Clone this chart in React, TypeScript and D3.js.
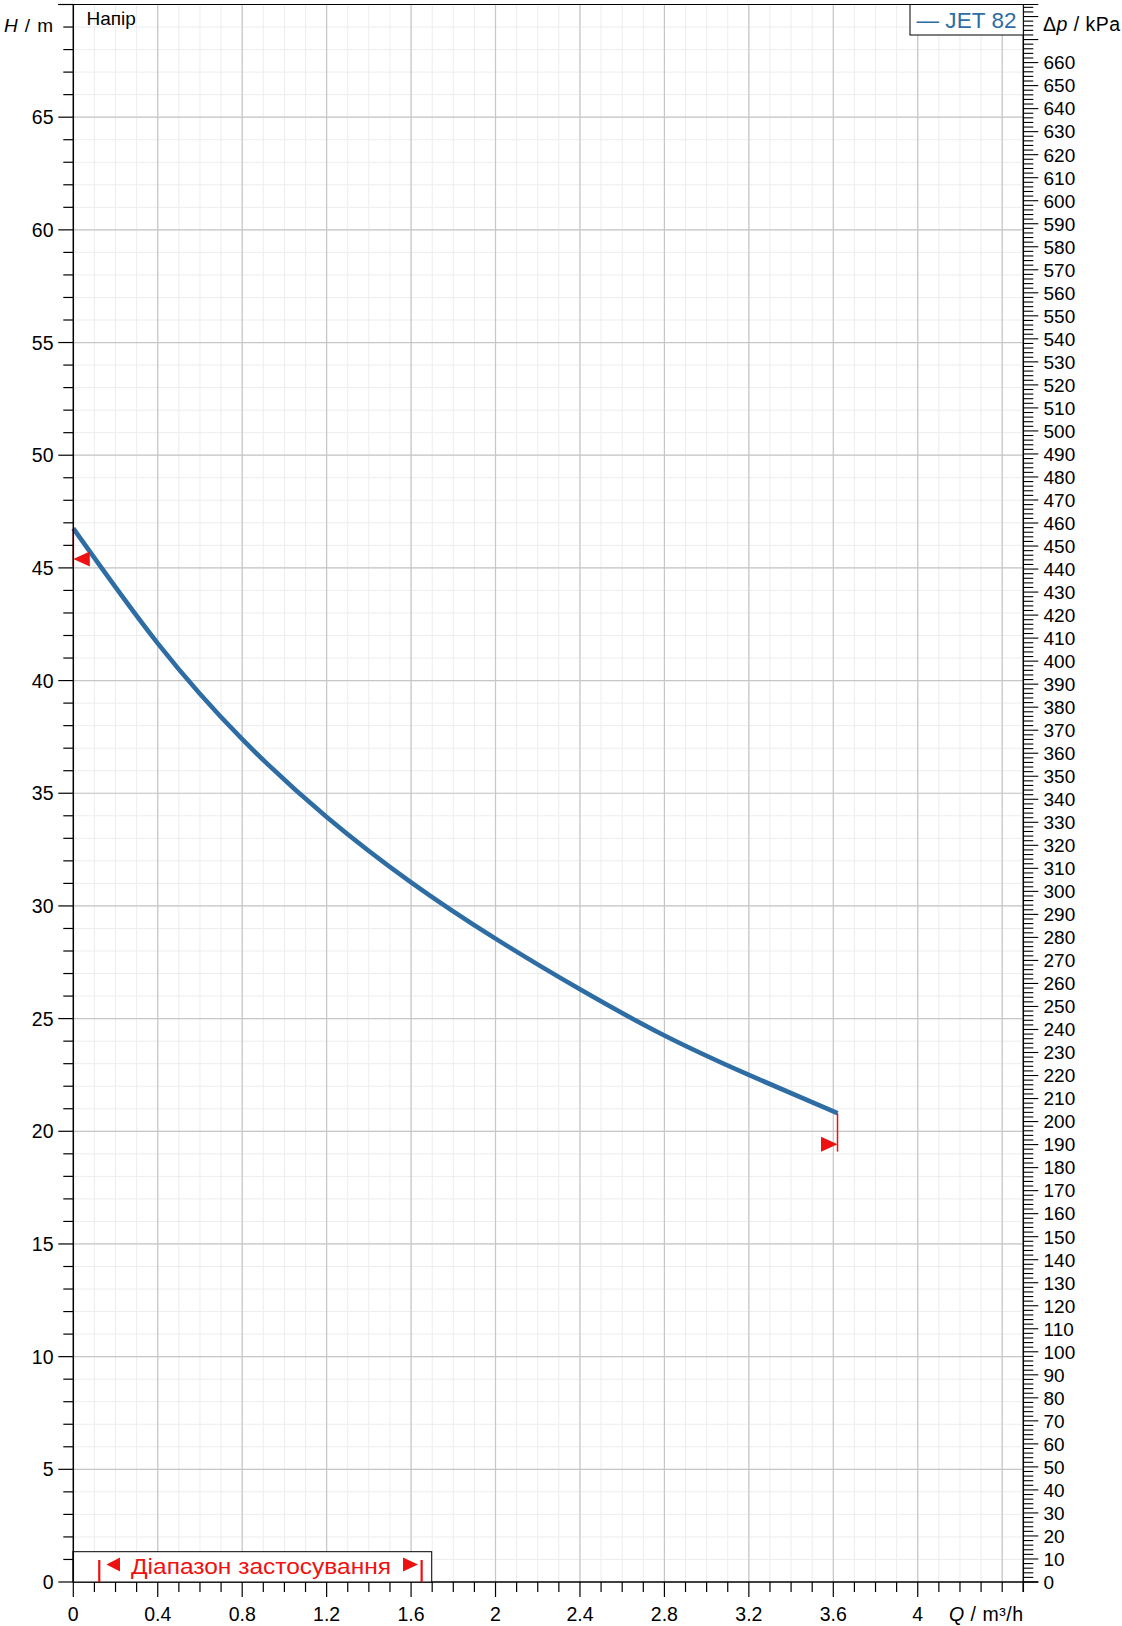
import React from "react";
import * as d3 from "d3";

// ---- data ----
const flowQ = [0, 0.4, 0.8, 1.2, 1.6, 2.0, 2.4, 2.8, 3.2, 3.62];
const headH = [46.75, 41.65, 37.4, 33.95, 31.05, 28.55, 26.3, 24.25, 22.5, 20.8];
const markerQ = [0, 3.62];
const markerH = [45.4, 19.43];
const markerDir = ["left", "right"];
const xTickLabels = ["0", "0.4", "0.8", "1.2", "1.6", "2", "2.4", "2.8", "3.2", "3.6", "4"];
const yTickLabels = [0, 5, 10, 15, 20, 25, 30, 35, 40, 45, 50, 55, 60, 65];
const kpaTickLabels = d3.range(0, 661, 10);
const rangeQ = [0.123, 1.65];
const seriesName = "JET 82";
const rangeLabel = "Діапазон застосування";
const KPA_PER_M = 9.789;

const W = 1122;
const H = 1626;
const FONT = "Arial, 'Liberation Sans', Helvetica, sans-serif";
const BLUE = "#2e6da4";
const RED = "#ee1111";

export default function App() {
  const x = d3.scaleLinear().domain([0, 4.5]).range([73.3, 1023.3]);
  const y = d3.scaleLinear().domain([0, 70]).range([1582, 4.5]);
  const yk = d3.scaleLinear().domain([0, 70 * KPA_PER_M]).range([1582, 4.5]);

  const x0 = x(0), x1 = x(4.5), y0 = y(0), y1 = y(70);

  const minorQ = d3.range(1, 45).map((i) => i / 10);
  const majorQ = d3.range(1, 12).map((i) => (i * 4) / 10);
  const minorH = d3.range(1, 70);
  const majorH = d3.range(5, 70, 5);

  const pts: [number, number][] = flowQ.map((q, i) => [q, headH[i]]);
  const line = d3
    .line<[number, number]>()
    .x((d) => x(d[0]))
    .y((d) => y(d[1]))
    .curve(d3.curveNatural);

  const kpaMinor = d3.range(0, 70 * KPA_PER_M, 2);

  return (
    <svg
      width={W}
      height={H}
      viewBox={`0 0 ${W} ${H}`}
      style={{ position: "absolute", left: 0, top: 0, background: "#fff" }}
      fontFamily={FONT}
    >
      <rect x={0} y={0} width={W} height={H} fill="#fff" />
      {/* minor grid */}
      <g stroke="#ededed" strokeWidth={1}>
        {minorQ.map((q) => (
          <line key={"mq" + q} x1={x(q)} x2={x(q)} y1={y1} y2={y0} />
        ))}
        {minorH.map((h) => (
          <line key={"mh" + h} x1={x0} x2={x1} y1={y(h)} y2={y(h)} />
        ))}
      </g>
      {/* major grid */}
      <g stroke="#c6c6c6" strokeWidth={1.2}>
        {majorQ.map((q) => (
          <line key={"Mq" + q} x1={x(q)} x2={x(q)} y1={y1} y2={y0} />
        ))}
        {majorH.map((h) => (
          <line key={"Mh" + h} x1={x0} x2={x1} y1={y(h)} y2={y(h)} />
        ))}
      </g>

      {/* curve */}
      <path d={line(pts) || ""} fill="none" stroke={BLUE} strokeWidth={4.6} strokeLinecap="butt" />

      {/* markers */}
      {markerQ.map((q, i) => {
        const tipX = x(q);
        const tipY = y(markerH[i]);
        const baseX = markerDir[i] === "left" ? tipX + 16.5 : tipX - 16.5;
        const curveY = y(headH[i === 0 ? 0 : headH.length - 1]);
        return (
          <g key={"mk" + i}>
            <line x1={tipX} x2={tipX} y1={curveY} y2={tipY + 7.5} stroke={RED} strokeWidth={1.5} />
            <path
              d={`M${tipX},${tipY} L${baseX},${tipY - 7.5} L${baseX},${tipY + 7.5} Z`}
              fill={RED}
            />
          </g>
        );
      })}

      {/* frame */}
      <g stroke="#000" fill="none">
        <line x1={x0} x2={x0} y1={y1} y2={y0} strokeWidth={1.5} />
        <line x1={x1} x2={x1} y1={y1} y2={y0 + 10} strokeWidth={1.5} />
        <line x1={x0 - 15} x2={x1 + 15} y1={y1} y2={y1} strokeWidth={1} />
        <line x1={x0} x2={x1 + 15} y1={y0} y2={y0} strokeWidth={1.5} />
      </g>

      {/* left axis ticks */}
      <g stroke="#000" strokeWidth={1.2}>
        {d3.range(0, 71).map((h) => (
          <line key={"lt" + h} x1={x0 - (h % 5 === 0 ? 15 : 10)} x2={x0} y1={y(h)} y2={y(h)} />
        ))}
      </g>
      <g fontSize={19.5} textAnchor="end" fill="#000">
        {yTickLabels.map((h) => (
          <text key={"ll" + h} x={53.5} y={y(h)} dy="0.36em">
            {h}
          </text>
        ))}
      </g>
      <text x={4} y={32} fontSize={19} fill="#000" textLength={49} lengthAdjust="spacing">
        <tspan fontStyle="italic">H</tspan>
        <tspan> / m</tspan>
      </text>

      {/* right axis ticks */}
      <g stroke="#000" strokeWidth={1.1}>
        {kpaMinor.map((k) => (
          <line key={"rt" + k} x1={x1} x2={x1 + (k % 10 === 0 ? 15 : 10)} y1={yk(k)} y2={yk(k)} />
        ))}
      </g>
      <g fontSize={19} textAnchor="start" fill="#000">
        {kpaTickLabels.map((k) => (
          <text key={"rl" + k} x={1043.5} y={yk(k)} dy="0.36em">
            {k}
          </text>
        ))}
      </g>
      <text x={1043} y={31} fontSize={19.5} fill="#000" textLength={77} lengthAdjust="spacing">
        <tspan>Δ</tspan>
        <tspan fontStyle="italic">p</tspan>
        <tspan> / kPa</tspan>
      </text>

      {/* bottom axis ticks */}
      <g stroke="#000" strokeWidth={1.2}>
        {d3.range(0, 46).map((i) => {
          const q = i / 10;
          const major = i % 4 === 0 && i <= 40;
          return <line key={"bt" + i} x1={x(q)} x2={x(q)} y1={y0} y2={y0 + (major ? 15 : 10)} />;
        })}
      </g>
      <g fontSize={19.5} textAnchor="middle" fill="#000">
        {xTickLabels.map((t) => (
          <text key={"bl" + t} x={x(+t)} y={1620.5}>
            {t}
          </text>
        ))}
      </g>
      <text x={949} y={1620.5} fontSize={19.5} fill="#000" textLength={74} lengthAdjust="spacing">
        <tspan fontStyle="italic">Q</tspan>
        <tspan> / m³/h</tspan>
      </text>

      {/* title inside plot */}
      <text x={86.5} y={24.5} fontSize={19} fill="#000">
        Напір
      </text>

      {/* legend */}
      <rect x={910} y={y1} width={x1 - 910} height={30.5} fill="#fff" stroke="#000" strokeWidth={1} />
      <text x={916.5} y={27.5} fontSize={22.5} fill={BLUE} textLength={100} lengthAdjust="spacing">
        {"— " + seriesName}
      </text>

      {/* application range box */}
      <rect x={x0} y={1551.7} width={431.7 - x0} height={y0 - 1551.7} fill="#fff" stroke="#000" strokeWidth={1} />
      {rangeQ.map((q, i) => (
        <line key={"rb" + i} x1={x(q)} x2={x(q)} y1={1560} y2={y0} stroke={RED} strokeWidth={2.2} />
      ))}
      <path d="M106.5,1564.5 L120,1557.5 L120,1571.5 Z" fill={RED} />
      <path d="M418,1564.5 L403,1557.5 L403,1571.5 Z" fill={RED} />
      <text
        x={131}
        y={1573.5}
        fontSize={22.5}
        fill={RED}
        textLength={260}
        lengthAdjust="spacingAndGlyphs"
      >
        {rangeLabel}
      </text>
      <line x1={x0} x2={x0} y1={1551} y2={y0} stroke="#000" strokeWidth={1.5} />
    </svg>
  );
}
